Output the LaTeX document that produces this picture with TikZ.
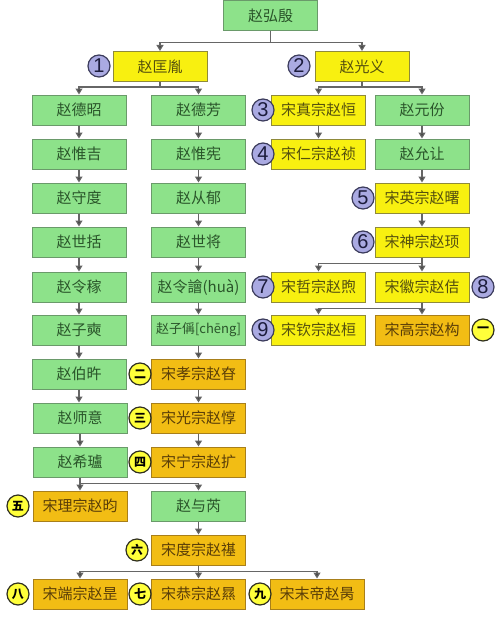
\documentclass[tikz,border=0pt]{standalone}
\usepackage{fontspec}
\newfontfamily\cjk{Noto Sans CJK SC}
\newfontfamily\numfont{Liberation Sans}
\usetikzlibrary{arrows.meta}
\definecolor{gfill}{HTML}{8DE28A}
\definecolor{gdraw}{HTML}{6A9A6A}
\definecolor{gtext}{HTML}{2A552A}
\definecolor{yfill}{HTML}{F8F010}
\definecolor{ydraw}{HTML}{8F8A3A}
\definecolor{ytext}{HTML}{55500E}
\definecolor{ofill}{HTML}{F2BD14}
\definecolor{odraw}{HTML}{A87F1A}
\definecolor{otext}{HTML}{5A3E08}
\definecolor{lfill}{HTML}{AAAAE2}
\definecolor{ldraw}{HTML}{3C3C5C}
\definecolor{ltext}{HTML}{1C1C3C}
\definecolor{cfill}{HTML}{FFFF3A}
\definecolor{cdraw}{HTML}{303020}
\definecolor{edge}{HTML}{666666}
\definecolor{tip}{HTML}{484848}
\tikzset{
  boxbase/.style={rectangle, minimum width=94pt, minimum height=30pt, inner sep=0pt, line width=1pt, font=\cjk\fontsize{15}{15}\selectfont},
  gbox/.style={boxbase, fill=gfill, draw=gdraw, text=gtext},
  ybox/.style={boxbase, fill=yfill, draw=ydraw, text=ytext},
  obox/.style={boxbase, fill=ofill, draw=odraw, text=otext},
  numc/.style={circle, minimum size=22pt, inner sep=0pt, fill=lfill, draw=ldraw, line width=1.2pt, text=ltext, font=\numfont\fontsize{20}{20}\selectfont},
  cnc/.style={circle, minimum size=22pt, inner sep=0pt, fill=cfill, draw=cdraw, line width=1.2pt, text=black, font=\cjk\bfseries\fontsize{12}{12}\selectfont},
  arr/.style={draw=edge, line width=1.2pt, -{Triangle[width=7pt,length=6pt,fill=tip]}}
}
\begin{document}
\begin{tikzpicture}[x=1pt,y=-1pt]
\useasboundingbox (0,0) rectangle (500,618);
% root and first generation
\node[gbox] (root) at (270.5,15.5) {赵弘殷};
\node[ybox] (kuangyin) at (160,66.5) {赵匡胤};
\node[ybox] (guangyi) at (362,66.5) {赵光义};
% left column
\node[gbox] (dezhao) at (79,110) {赵德昭};
\node[gbox] (weiji) at (79,154) {赵惟吉};
\node[gbox] (shoudu) at (79,198) {赵守度};
\node[gbox] (shikuo) at (79,242) {赵世括};
\node[gbox] (lingjia) at (79,287) {赵令稼};
\node[gbox] (zishi) at (79,330) {赵子奭};
\node[gbox] (bowu) at (79,374) {赵伯旿};
\node[gbox] (shiyi) at (80,418) {赵师意};
\node[gbox] (xilu) at (80,462) {赵希瓐};
\node[obox] (lizong) at (80,506) {宋理宗赵昀};
\node[obox] (duanzong) at (80,594) {宋端宗赵昰};
% middle column
\node[gbox] (defang) at (198.5,110) {赵德芳};
\node[gbox] (weixian) at (198.5,154) {赵惟宪};
\node[gbox] (congyu) at (198.5,198) {赵从郁};
\node[gbox] (shijiang) at (198.5,242) {赵世将};
\node[gbox] (linghua) at (198.5,287) {赵令譮(huà)};
\node[gbox, font=\cjk\fontsize{13}{13}\selectfont] (zicheng) at (198.5,330) {赵子偁[chēng]};
\node[obox] (xiaozong) at (198.5,374) {宋孝宗赵昚};
\node[obox] (guangzong) at (198.5,418) {宋光宗赵惇};
\node[obox] (ningzong) at (198.5,462) {宋宁宗赵扩};
\node[gbox] (yurui) at (198.5,506) {赵与芮};
\node[obox] (duzong) at (198.5,550) {宋度宗赵禥};
\node[obox] (gongzong) at (198.5,594) {宋恭宗赵㬎};
\node[obox] (modi) at (317,594) {宋末帝赵昺};
% right columns
\node[ybox] (zhenzong) at (318.5,110) {宋真宗赵恒};
\node[ybox] (renzong) at (318.5,154) {宋仁宗赵祯};
\node[gbox] (yuanfen) at (422,110) {赵元份};
\node[gbox] (yunrang) at (422,154) {赵允让};
\node[ybox] (yingzong) at (422,198) {宋英宗赵曙};
\node[ybox] (shenzong) at (422,242) {宋神宗赵顼};
\node[ybox] (zhezong) at (318.5,287) {宋哲宗赵煦};
\node[ybox] (huizong) at (422,287) {宋徽宗赵佶};
\node[ybox] (qinzong) at (318.5,330) {宋钦宗赵桓};
\node[obox] (gaozong) at (422,330) {宋高宗赵构};
% numbered circles
\node[numc] (n1) at (99,66) {1};
\node[numc] (n2) at (299,66) {2};
\node[numc] (n3) at (263,110) {3};
\node[numc] (n4) at (263,154) {4};
\node[numc] (n5) at (363,198) {5};
\node[numc] (n6) at (363,242) {6};
\node[numc] (n7) at (263,287) {7};
\node[numc] (n8) at (483,287) {8};
\node[numc] (n9) at (263,330) {9};
\node[cnc] (c1) at (483,330) {一};
\node[cnc] (c2) at (140,374) {二};
\node[cnc] (c3) at (140,418) {三};
\node[cnc] (c4) at (140,462) {四};
\node[cnc] (c5) at (18,506) {五};
\node[cnc] (c6) at (137,550) {六};
\node[cnc] (c7) at (140,594) {七};
\node[cnc] (c8) at (18,594) {八};
\node[cnc] (c9) at (260,594) {九};
% connectors: branching
\draw[arr] (root.south) -- ++(0,11.5) -| (kuangyin.north);
\draw[arr] (root.south) -- ++(0,11.5) -| (guangyi.north);
\draw[arr] (kuangyin.south) -- ++(0,5) -| (dezhao.north);
\draw[arr] (kuangyin.south) -- ++(0,5) -| (defang.north);
\draw[arr] (guangyi.south) -- ++(0,5) -| (zhenzong.north);
\draw[arr] (guangyi.south) -- ++(0,5) -| (yuanfen.north);
\draw[arr] (shenzong.south) -- ++(0,6) -| (zhezong.north);
\draw[arr] (shenzong.south) -- ++(0,6) -| (huizong.north);
\draw[arr] (huizong.south) -- ++(0,6) -| (qinzong.north);
\draw[arr] (huizong.south) -- ++(0,6) -| (gaozong.north);
\draw[arr] (xilu.south) -- ++(0,6) -| (lizong.north);
\draw[arr] (xilu.south) -- ++(0,6) -| (yurui.north);
\draw[arr] (duzong.south) -- ++(0,6) -| (duanzong.north);
\draw[arr] (duzong.south) -- ++(0,6) -| (gongzong.north);
\draw[arr] (duzong.south) -- ++(0,6) -| (modi.north);
% connectors: straight
\draw[arr] (dezhao) -- (weiji);
\draw[arr] (weiji) -- (shoudu);
\draw[arr] (shoudu) -- (shikuo);
\draw[arr] (shikuo) -- (lingjia);
\draw[arr] (lingjia) -- (zishi);
\draw[arr] (zishi) -- (bowu);
\draw[arr] (bowu.south) -- (bowu.south |- shiyi.north);
\draw[arr] (shiyi) -- (xilu);
\draw[arr] (defang) -- (weixian);
\draw[arr] (weixian) -- (congyu);
\draw[arr] (congyu) -- (shijiang);
\draw[arr] (shijiang) -- (linghua);
\draw[arr] (linghua) -- (zicheng);
\draw[arr] (zicheng) -- (xiaozong);
\draw[arr] (xiaozong) -- (guangzong);
\draw[arr] (guangzong) -- (ningzong);
\draw[arr] (yurui) -- (duzong);
\draw[arr] (zhenzong) -- (renzong);
\draw[arr] (yuanfen) -- (yunrang);
\draw[arr] (yunrang) -- (yingzong);
\draw[arr] (yingzong) -- (shenzong);
\end{tikzpicture}
\end{document}
